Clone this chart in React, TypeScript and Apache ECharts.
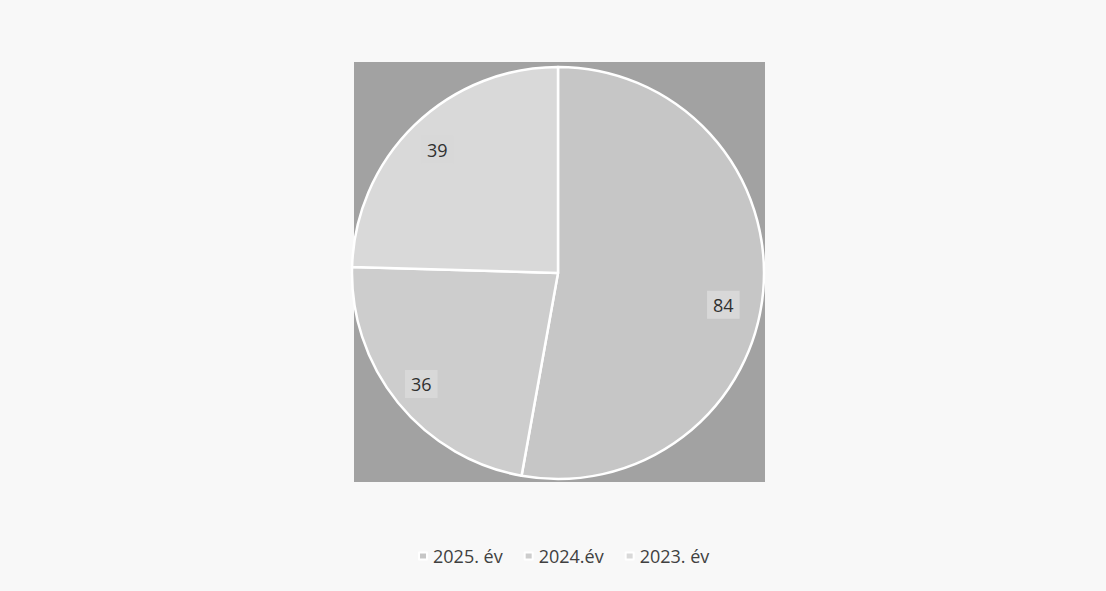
import React, { useEffect, useRef } from "react";
import * as echarts from "echarts";

const categories = ["2025. év", "2024.év", "2023. év"];
const values = [84, 36, 39];
const sliceColors = ["#c6c6c6", "#cdcdcd", "#d9d9d9"];

const CX = 558;
const CY = 273;
const R = 206;

export default function App() {
  const ref = useRef<HTMLDivElement>(null);
  useEffect(() => {
    if (!ref.current) return;
    const chart = echarts.init(ref.current, undefined, { renderer: "svg" });
    const data = categories.map((name, i) => ({
      name,
      value: values[i],
      itemStyle: { color: sliceColors[i] },
    }));
    const labelOffsets = [[-10, 16], [0, 0], [2, 3]];
    chart.setOption({
      animation: false,
      backgroundColor: "#f8f8f8",
      graphic: [
        {
          type: "rect",
          z: -10,
          silent: true,
          shape: { x: CX - R + 2, y: CY - R - 5, width: 2 * R - 1, height: 2 * R + 8 },
          style: { fill: "#a2a2a2" },
        },
      ],
      legend: {
        data: categories,
        bottom: 21,
        left: 413,
        itemWidth: 8,
        itemHeight: 7,
        itemGap: 21,
        icon: "rect",
        textStyle: { fontFamily: "Open Sans", fontSize: 18, color: "#404040", padding: [0, 0, 0, 1] },
      },
      series: [
        {
          type: "pie",
          name: "main",
          center: [CX, CY],
          radius: [0, R],
          startAngle: 90,
          clockwise: true,
          data,
          label: { show: false },
          labelLine: { show: false },
          itemStyle: { borderColor: "#ffffff", borderWidth: 2.5 },
          emphasis: { disabled: true },
        },
        {
          type: "pie",
          name: "labels",
          center: [CX, CY],
          radius: [R * 0.68, R],
          startAngle: 90,
          clockwise: true,
          silent: true,
          data: categories.map((name, i) => ({
            name,
            value: values[i],
            label: { offset: labelOffsets[i] },
          })),
          itemStyle: { color: "rgba(0,0,0,0)", borderWidth: 0 },
          label: {
            show: true,
            position: "inside",
            formatter: "{c}",
            fontFamily: "Open Sans",
            fontSize: 18,
            color: "#303030",
            backgroundColor: "#d8d8d8",
            padding: [6, 6, 4, 6],
          },
          labelLine: { show: false },
          emphasis: { disabled: true },
        },
      ],
    });
    return () => chart.dispose();
  }, []);
  return (
    <div
      ref={ref}
      style={{ position: "fixed", left: 0, top: 0, width: 1106, height: 591 }}
    />
  );
}
